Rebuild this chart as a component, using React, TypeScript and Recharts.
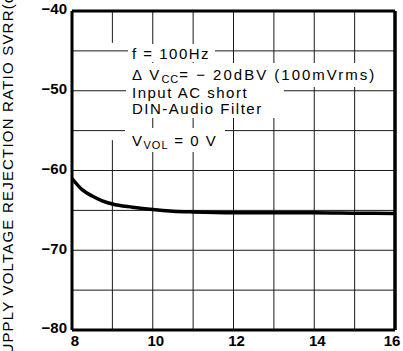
import { LineChart, Line, XAxis, YAxis, CartesianGrid, ReferenceLine } from 'recharts';

// supply voltage Vcc (V) vs SVRR (dB)
const vcc = [8, 8.25, 8.5, 8.75, 9, 9.5, 10, 10.5, 11, 12, 13, 14, 15, 16];
const svrr = [-61.0, -62.4, -63.2, -63.8, -64.2, -64.6, -64.9, -65.1, -65.2, -65.3, -65.3, -65.3, -65.35, -65.4];

const xTicks = [8, 10, 12, 14, 16];
const yTicks = [-40, -50, -60, -70, -80];
const xGrid = [8, 10, 11, 12, 13, 14, 15, 16];
const yGrid = [-40, -45, -50, -55, -60, -65, -70, -75, -80];

const data = vcc.map((v, i) => ({ vcc: v, svrr: svrr[i] }));

const font = '"Liberation Sans", Arial, sans-serif';

const textStyle: React.CSSProperties = {
  position: 'absolute',
  left: 132,
  fontFamily: font,
  fontSize: 15,
  lineHeight: '15px',
  letterSpacing: 1.5,
  color: '#000',
  whiteSpace: 'nowrap',
};

const box = (left: number, top: number, width: number, height: number): React.CSSProperties => ({
  position: 'absolute',
  left,
  top,
  width,
  height,
  background: '#fff',
});

const sub: React.CSSProperties = { fontSize: 11, verticalAlign: -3, letterSpacing: 1 };

// x tick labels sit a little right of their gridline, except the last one
const XTick = (props: any) => {
  const { x, y, payload } = props;
  const last = payload.value === xTicks[xTicks.length - 1];
  return (
    <text
      x={x + (last ? -3 : 3)}
      y={y + 8}
      textAnchor="middle"
      fill="#000"
      fontSize={15}
      fontWeight="bold"
      fontFamily={font}
    >
      {payload.value}
    </text>
  );
};

const App = () => {
  return (
    <div style={{ position: 'absolute', left: 0, top: 0, width: 403, height: 351, background: '#fff', overflow: 'hidden' }}>
      <LineChart width={403} height={351} data={data} margin={{ top: 11, right: 8, bottom: 0, left: 0 }}>
        <CartesianGrid
          stroke="#1a1a1a"
          strokeWidth={1}
          horizontalValues={yGrid}
          verticalValues={xGrid}
        />
        {/* gridline at 9 V is broken where the condition box sits */}
        <ReferenceLine segment={[{ x: 9, y: -80 }, { x: 9, y: -56.2 }]} stroke="#1a1a1a" strokeWidth={1} />
        <ReferenceLine segment={[{ x: 9, y: -44 }, { x: 9, y: -40 }]} stroke="#1a1a1a" strokeWidth={1} />
        <XAxis
          type="number"
          dataKey="vcc"
          domain={[8, 16]}
          ticks={xTicks}
          height={21}
          axisLine={false}
          tickLine={false}
          tick={<XTick />}
        />
        <YAxis
          type="number"
          domain={[-80, -40]}
          ticks={yTicks}
          width={72}
          axisLine={false}
          tickLine={false}
          tickSize={3}
          tickMargin={2}
          tickFormatter={(v: number) => `\u2212${Math.abs(v)}`}
          tick={{ fill: '#000', fontSize: 15, fontWeight: 'bold', fontFamily: font, dy: -2 }}
        />
        <ReferenceLine x={8} stroke="#000" strokeWidth={3} />
        <ReferenceLine x={16} stroke="#000" strokeWidth={3.5} />
        <ReferenceLine y={-40} stroke="#000" strokeWidth={3} />
        <ReferenceLine y={-80} stroke="#000" strokeWidth={3} />
        <Line
          type="monotone"
          dataKey="svrr"
          stroke="#000"
          strokeWidth={3.5}
          dot={false}
          isAnimationActive={false}
        />
      </LineChart>

      {/* condition block */}
      <div style={box(128, 44, 87, 18)} />
      <div style={box(126, 63, 259, 24)} />
      <div style={box(126, 87, 158, 14)} />
      <div style={box(126, 101, 186, 17)} />
      <div style={box(125, 128, 100, 24)} />
      <div style={{ ...textStyle, top: 46 }}>f = 100Hz</div>
      <div style={{ ...textStyle, top: 67, letterSpacing: 2 }}>
        Δ V<span style={sub}>CC</span>= − 20dBV  (100mVrms)
      </div>
      <div style={{ ...textStyle, top: 85 }}>Input AC short</div>
      <div style={{ ...textStyle, top: 100.5 }}>DIN-Audio Filter</div>
      <div style={{ ...textStyle, top: 133 }}>
        V<span style={sub}>VOL</span> = 0 V
      </div>

      {/* y axis title */}
      <div
        style={{
          position: 'absolute',
          left: 7.5 - 220,
          top: 171 - 9,
          width: 440,
          height: 18,
          lineHeight: '18px',
          textAlign: 'center',
          transform: 'rotate(-90deg)',
          fontFamily: font,
          fontSize: 15,
          letterSpacing: 1.2,
          color: '#000',
          whiteSpace: 'nowrap',
        }}
      >
        SUPPLY VOLTAGE REJECTION RATIO SVRR(dB)
      </div>
    </div>
  );
};

export default App;
